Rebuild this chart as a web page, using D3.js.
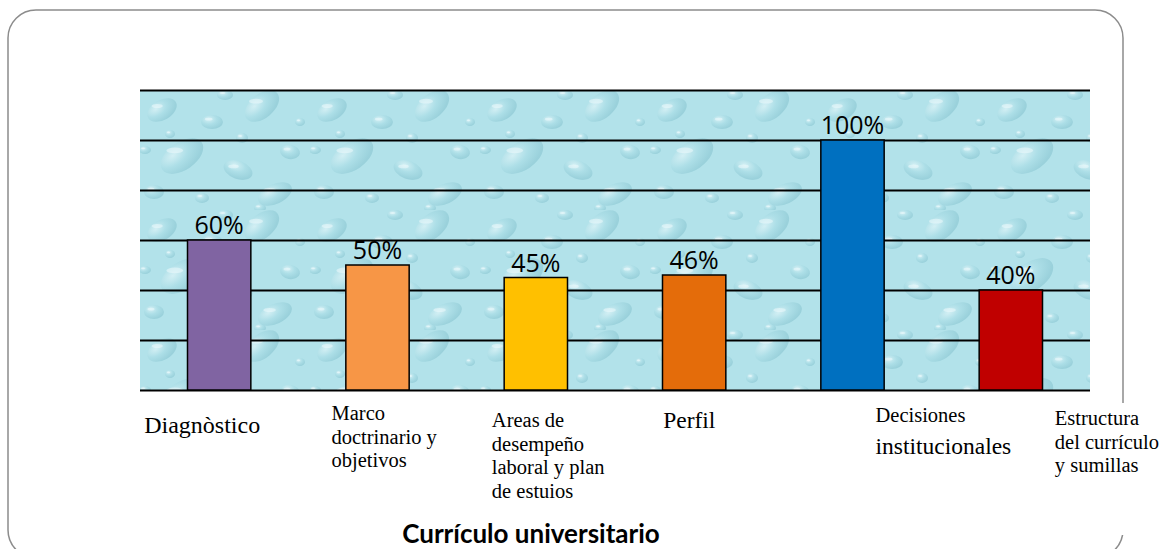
<!DOCTYPE html>
<html>
<head>
<meta charset="utf-8">
<script src="https://cdn.jsdelivr.net/npm/d3@7"></script>
<style>
  body { margin: 0; background: #fff; }
  svg { display: block; }
</style>
</head>
<body>
<script>
// chart values
var categories = ["Diagnòstico", "Marco doctrinario y objetivos", "Areas de desempeño laboral y plan de estuios",
                  "Perfil", "Decisiones institucionales", "Estructura del currículo y sumillas"];
var values = [60, 50, 45, 46, 100, 40];
var valueLabels = ["60%", "50%", "45%", "46%", "100%", "40%"];
var yTicks = [0, 20, 40, 60, 80, 100, 120];
var categoryLines = [
  ["Diagnòstico"],
  ["Marco", "doctrinario y", "objetivos"],
  ["Areas de", "desempeño", "laboral y plan", "de estuios"],
  ["Perfil"],
  ["Decisiones", "institucionales"],
  ["Estructura", "del currículo", "y sumillas"]
];
var title = "Currículo universitario";

var colors = ["#8064a2", "#f79646", "#ffc000", "#e46c0a", "#0070c0", "#c00000"];

// text boxes under the bars (offset from band centre, baseline of first line, size of each line)
var labelLayout = [
  {dx: -75, y: 433, size: [24]},
  {dx: -46, y: 420, size: [20.5, 20.5, 20.5]},
  {dx: -44, y: 427, size: [20.5, 20.5, 20.5, 20.5]},
  {dx: -31, y: 428, size: [23.5]},
  {dx: 23, y: 422, size: [20.5, 23.5]},
  {dx: 44, y: 425, size: [20.5, 20.5, 20.5]}
];

var width = 1173, height = 549;
var margin = {top: 90, right: 83, bottom: 159, left: 140};
var w = width - margin.left - margin.right;
var h = height - margin.top - margin.bottom;

var svg = d3.select("body").append("svg")
    .attr("width", width)
    .attr("height", height);

// water drop texture
var defs = svg.append("defs");
var grad = defs.append("radialGradient").attr("id", "drop")
    .attr("cx", "35%").attr("cy", "30%").attr("r", "70%");
grad.append("stop").attr("offset", "0%").attr("stop-color", "#eefafc");
grad.append("stop").attr("offset", "50%").attr("stop-color", "#a9dce5");
grad.append("stop").attr("offset", "100%").attr("stop-color", "#86c3cf");

var pattern = defs.append("pattern")
    .attr("id", "water")
    .attr("patternUnits", "userSpaceOnUse")
    .attr("width", 170).attr("height", 120);
pattern.append("rect").attr("width", 170).attr("height", 120).attr("fill", "#b2e2ea");
var drops = [
  [22, 20, 16, 10, -30], [72, 32, 11, 7, 0], [122, 16, 20, 12, -40], [150, 62, 10, 7, 10],
  [42, 66, 24, 14, -35], [98, 80, 15, 9, 20], [14, 102, 10, 7, 0], [135, 104, 18, 10, -25],
  [62, 108, 7, 5, 0], [102, 48, 6, 5, 0], [160, 32, 5, 4, 0], [30, 44, 5, 4, 0],
  [85, 5, 8, 5, 0], [5, 60, 6, 4, 0], [120, 118, 6, 4, 0]
];
drops.forEach(function(d) {
  pattern.append("ellipse")
    .attr("cx", d[0]).attr("cy", d[1])
    .attr("rx", d[2]).attr("ry", d[3])
    .attr("transform", "rotate(" + d[4] + "," + d[0] + "," + d[1] + ")")
    .attr("fill", "url(#drop)")
    .attr("opacity", 0.55);
  pattern.append("ellipse")
    .attr("cx", d[0] - d[2] * 0.3).attr("cy", d[1] - d[3] * 0.4)
    .attr("rx", d[2] * 0.35).attr("ry", d[3] * 0.2)
    .attr("fill", "#f2fcfd")
    .attr("opacity", 0.5);
});

// frame
svg.append("rect")
    .attr("x", 8).attr("y", 10)
    .attr("width", 1115).attr("height", 548)
    .attr("rx", 28).attr("ry", 28)
    .attr("fill", "none")
    .attr("stroke", "#8c8c8c")
    .attr("stroke-width", 1.5);

var g = svg.append("g")
    .attr("transform", "translate(" + margin.left + "," + margin.top + ")");

var xScale = d3.scaleBand()
    .domain(categories)
    .range([0, w])
    .paddingInner(0.6)
    .paddingOuter(0.3);

var yScale = d3.scaleLinear()
    .domain([0, 120])
    .range([h, 0]);

g.append("rect")
    .attr("width", w).attr("height", h)
    .attr("fill", "url(#water)");

// gridlines
var yAxis = d3.axisLeft(yScale)
    .tickValues(yTicks)
    .tickSize(-w)
    .tickFormat("");
g.append("g")
    .attr("class", "grid")
    .call(yAxis)
    .call(function(s) { s.select(".domain").remove(); })
    .selectAll("line")
    .attr("stroke", "#000")
    .attr("stroke-width", 2);

// value labels (under the bars, as in the original)
g.selectAll(".val")
    .data(categories)
  .enter().append("text")
    .attr("class", "val")
    .attr("x", function(d) { return xScale(d) + xScale.bandwidth() / 2; })
    .attr("y", function(d, i) { return yScale(values[i]) - 6; })
    .attr("text-anchor", "middle")
    .style("font-family", "'Open Sans', sans-serif")
    .style("font-size", "25px")
    .attr("fill", "#000")
    .text(function(d, i) { return valueLabels[i]; });

g.selectAll(".bar")
    .data(categories)
  .enter().append("rect")
    .attr("class", "bar")
    .attr("x", function(d) { return xScale(d); })
    .attr("y", function(d, i) { return yScale(values[i]); })
    .attr("width", xScale.bandwidth())
    .attr("height", function(d, i) { return h - yScale(values[i]); })
    .attr("fill", function(d, i) { return colors[i]; })
    .attr("stroke", "#000")
    .attr("stroke-width", 1.5);

// category labels
categories.forEach(function(c, i) {
  var lay = labelLayout[i];
  var x0 = margin.left + xScale(c) + xScale.bandwidth() / 2 + lay.dx;
  var lines = categoryLines[i];
  if (i == categories.length - 1) {
    // white text box hides the frame behind it
    svg.append("rect")
      .attr("x", x0 - 4).attr("y", lay.y - 22)
      .attr("width", 118).attr("height", 24 * lines.length + 60)
      .attr("fill", "#fff");
  }
  var t = svg.append("text")
      .attr("x", x0)
      .attr("y", lay.y)
      .style("font-family", "'Liberation Serif', 'Times New Roman', serif")
      .attr("fill", "#000");
  var y = lay.y;
  lines.forEach(function(line, j) {
    if (j > 0) y += (lay.size[j] > 22 ? 32 : 23.5);
    t.append("tspan")
      .attr("x", x0)
      .attr("y", y)
      .style("font-size", lay.size[j] + "px")
      .text(line);
  });
});

svg.append("text")
    .attr("x", 531)
    .attr("y", 543)
    .attr("text-anchor", "middle")
    .style("font-family", "Lato, sans-serif")
    .style("font-weight", "bold")
    .style("font-size", "26px")
    .text(title);
</script>
</body>
</html>
